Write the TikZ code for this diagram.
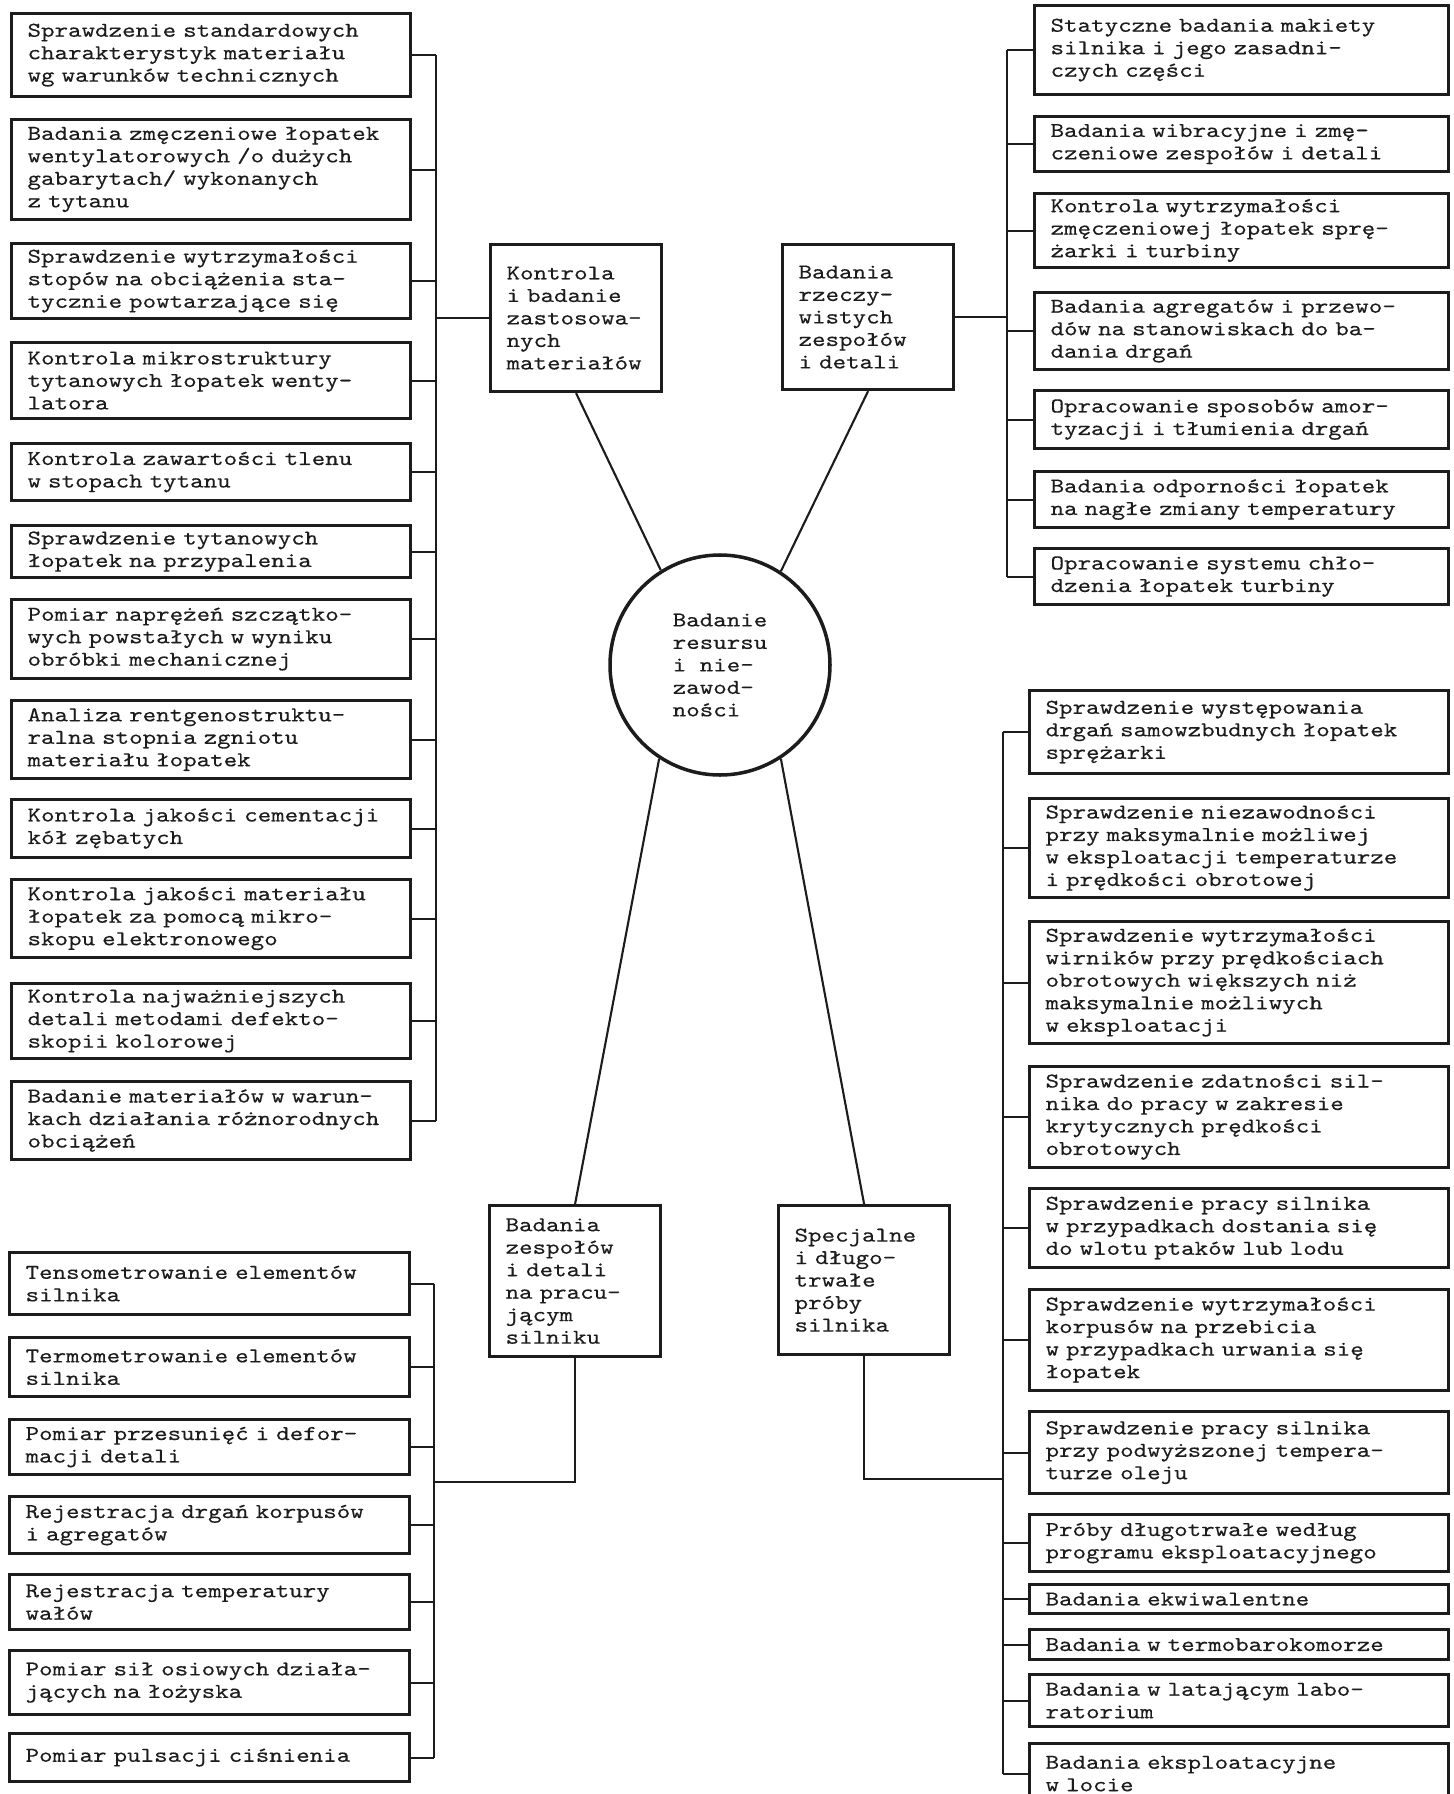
\documentclass[tikz,border=0pt]{standalone}
\usepackage{fontspec}
\setmonofont[FakeStretch=1.22, FakeBold=0.3]{lmmono10-regular.otf}
\usetikzlibrary{calc}
\definecolor{ink}{HTML}{1C1C1C}
\tikzset{
  box/.style={draw=ink, text=ink, line width=0.9pt, anchor=north west, align=left,
    inner xsep=1.6mm, inner ysep=0.3mm, font={\ttfamily\fontsize{6pt}{6.4pt}\selectfont}},
  lbox/.style={box, text width=36.7mm},
  rbox/.style={box, text width=38.2mm},
  sbox/.style={box, text width=38.7mm},
  gbox/.style={box, text width=36.8mm},
  mainbox/.style={box, text width=13.9mm},
  hub/.style={circle, draw=ink, text=ink, line width=1pt, minimum size=22mm, inner sep=0pt,
    align=left, font={\ttfamily\fontsize{6pt}{6.4pt}\selectfont}},
  link/.style={draw=ink, line width=0.6pt}
}

\begin{document}
\begin{tikzpicture}[x=0.1mm, y=-0.1mm]
\useasboundingbox (0,0) rectangle (1454,1794);
\clip (0,0) rectangle (1454,1794);

\node[hub] (c) at (720,665) {Badanie\\resursu\\i nie-\\zawod-\\ności};
\node[mainbox, minimum height=14.7mm] (k) at (489,243) {Kontrola\\i badanie\\zastosowa-\\nych\\materiałów};
\node[mainbox, minimum height=14.5mm] (rz) at (781,243) {Badania\\rzeczy-\\wistych\\zespołów\\i detali};
\node[mainbox, minimum height=15.1mm] (zs) at (488,1204) {Badania\\zespołów\\i detali\\na pracu-\\jącym\\silniku};
\node[mainbox, minimum height=14.9mm] (sp) at (777,1204) {Specjalne\\i długo-\\trwałe\\próby\\silnika};

\node[lbox, minimum height=8.3mm] (l1) at (10,12) {Sprawdzenie standardowych\\charakterystyk materiału\\wg warunków technicznych};
\node[lbox, minimum height=10mm] (l2) at (10,118) {Badania zmęczeniowe łopatek\\wentylatorowych /o dużych\\gabarytach/ wykonanych\\z tytanu};
\node[lbox, minimum height=7.5mm] (l3) at (10,242) {Sprawdzenie wytrzymałości\\stopów na obciążenia sta-\\tycznie powtarzające się};
\node[lbox, minimum height=7.6mm] (l4) at (10,341) {Kontrola mikrostruktury\\tytanowych łopatek wenty-\\latora};
\node[lbox, minimum height=5.7mm] (l5) at (10,442) {Kontrola zawartości tlenu\\w stopach tytanu};
\node[lbox, minimum height=5.2mm] (l6) at (10,524) {Sprawdzenie tytanowych\\łopatek na przypalenia};
\node[lbox, minimum height=7.9mm] (l7) at (10,598) {Pomiar naprężeń szczątko-\\wych powstałych w wyniku\\obróbki mechanicznej};
\node[lbox, minimum height=7.8mm] (l8) at (10,699) {Analiza rentgenostruktu-\\ralna stopnia zgniotu\\materiału łopatek};
\node[lbox, minimum height=5.8mm] (l9) at (10,798) {Kontrola jakości cementacji\\kół zębatych};
\node[lbox, minimum height=7.8mm] (l10) at (10,878) {Kontrola jakości materiału\\łopatek za pomocą mikro-\\skopu elektronowego};
\node[lbox, minimum height=7.5mm] (l11) at (10,982) {Kontrola najważniejszych\\detali metodami defekto-\\skopii kolorowej};
\node[lbox, minimum height=7.8mm] (l12) at (10,1080) {Badanie materiałów w warun-\\kach działania różnorodnych\\obciążeń};

\node[rbox, minimum height=8.9mm] (r1) at (1033,4) {Statyczne badania makiety\\silnika i jego zasadni-\\czych części};
\node[rbox, minimum height=5.5mm] (r2) at (1033,115) {Badania wibracyjne i zmę-\\czeniowe zespołów i detali};
\node[rbox, minimum height=7.4mm] (r3) at (1033,192) {Kontrola wytrzymałości\\zmęczeniowej łopatek sprę-\\żarki i turbiny};
\node[rbox, minimum height=7.7mm] (r4) at (1033,291) {Badania agregatów i przewo-\\dów na stanowiskach do ba-\\dania drgań};
\node[rbox, minimum height=5.8mm] (r5) at (1033,389) {Opracowanie sposobów amor-\\tyzacji i tłumienia drgań};
\node[rbox, minimum height=5.6mm] (r6) at (1033,470) {Badania odporności łopatek\\na nagłe zmiany temperatury};
\node[rbox, minimum height=5.6mm] (r7) at (1033,547) {Opracowanie systemu chło-\\dzenia łopatek turbiny};

\node[sbox, minimum height=8.3mm] (s1) at (1028,689) {Sprawdzenie występowania\\drgań samowzbudnych łopatek\\sprężarki};
\node[sbox, minimum height=9.9mm] (s2) at (1028,797) {Sprawdzenie niezawodności\\przy maksymalnie możliwej\\w eksploatacji temperaturze\\i prędkości obrotowej};
\node[sbox, minimum height=12.2mm] (s3) at (1028,920) {Sprawdzenie wytrzymałości\\wirników przy prędkościach\\obrotowych większych niż\\maksymalnie możliwych\\w eksploatacji};
\node[sbox, minimum height=10.1mm] (s4) at (1028,1065) {Sprawdzenie zdatności sil-\\nika do pracy w zakresie\\krytycznych prędkości\\obrotowych};
\node[sbox, minimum height=7.9mm] (s5) at (1028,1187) {Sprawdzenie pracy silnika\\w przypadkach dostania się\\do wlotu ptaków lub lodu};
\node[sbox, minimum height=10.1mm] (s6) at (1028,1288) {Sprawdzenie wytrzymałości\\korpusów na przebicia\\w przypadkach urwania się\\łopatek};
\node[sbox, minimum height=8.2mm] (s7) at (1028,1410) {Sprawdzenie pracy silnika\\przy podwyższonej tempera-\\turze oleju};
\node[sbox, minimum height=5.7mm] (s8) at (1028,1513) {Próby długotrwałe według\\programu eksploatacyjnego};
\node[sbox, minimum height=2.9mm] (s9) at (1028,1583) {Badania ekwiwalentne};
\node[sbox, minimum height=3mm] (s10) at (1028,1628) {Badania w termobarokomorze};
\node[sbox, minimum height=5.2mm] (s11) at (1028,1673) {Badania w latającym labo-\\ratorium};
\node[sbox, minimum height=6mm] (s12) at (1028,1742) {Badania eksploatacyjne\\w locie};

\node[gbox, minimum height=6.2mm] (b1) at (8,1251) {Tensometrowanie elementów\\silnika};
\node[gbox, minimum height=5.9mm] (b2) at (8,1336) {Termometrowanie elementów\\silnika};
\node[gbox, minimum height=5.5mm] (b3) at (8,1418) {Pomiar przesunięć i defor-\\macji detali};
\node[gbox, minimum height=5.7mm] (b4) at (8,1495) {Rejestracja drgań korpusów\\i agregatów};
\node[gbox, minimum height=5.5mm] (b5) at (8,1573) {Rejestracja temperatury\\wałów};
\node[gbox, minimum height=6.4mm] (b6) at (8,1649) {Pomiar sił osiowych działa-\\jących na łożyska};
\node[gbox, minimum height=4.8mm] (b7) at (8,1732) {Pomiar pulsacji ciśnienia};

\coordinate (lbus) at (436,0);
\coordinate (rbus) at (1007,0);
\coordinate (bbus) at (434,1482);
\coordinate (sbus) at (1003,1479);

\draw[link] (k.south) -- (c.122);
\draw[link] (rz.south) -- (c.57);
\draw[link] (c.237) -- (zs.north);
\draw[link] (c.303) -- (sp.north);

\draw[link] (k.west) -- (k.west -| lbus);
\draw[link] (l1.east -| lbus) -- (l12.east -| lbus);
\foreach \i in {1,...,12}
  \draw[link] (l\i.east) -- (l\i.east -| lbus);

\draw[link] (rz.east) -- (rz.east -| rbus);
\draw[link] (r1.west -| rbus) -- (r7.west -| rbus);
\foreach \i in {1,...,7}
  \draw[link] (r\i.west) -- (r\i.west -| rbus);

\draw[link] (zs.south) |- (bbus);
\draw[link] (b1.east -| bbus) -- (b7.east -| bbus);
\foreach \i in {1,...,7}
  \draw[link] (b\i.east) -- (b\i.east -| bbus);

\draw[link] (sp.south) |- (sbus);
\draw[link] (s1.west -| sbus) -- (s12.west -| sbus);
\foreach \i in {1,...,12}
  \draw[link] (s\i.west) -- (s\i.west -| sbus);
\end{tikzpicture}
\end{document}
